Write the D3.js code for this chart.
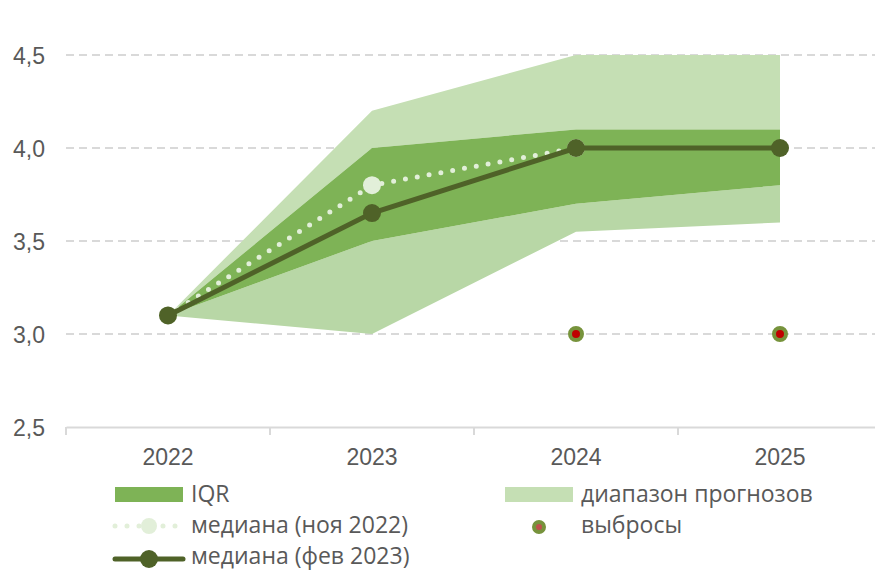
<!DOCTYPE html>
<html>
<head>
<meta charset="utf-8">
<script src="https://cdn.jsdelivr.net/npm/d3@7"></script>
<style>
  body { margin: 0; background: #fff; }
  text { fill: #595959; }
  .tick-label { font-family: "Liberation Sans", Arial, sans-serif; font-size: 23px; }
  .legend-label { font-family: "Open Sans", "Noto Sans", sans-serif; font-size: 23px; }
</style>
</head>
<body>
<div id="chart"></div>
<script>
// data
let years = ['2022', '2023', '2024', '2025'];
let rangeMin = [3.1, 3.0, 3.55, 3.6];
let rangeMax = [3.1, 4.2, 4.5, 4.5];
let q1 = [3.1, 3.5, 3.7, 3.8];
let q3 = [3.1, 4.0, 4.1, 4.1];
let medianFeb = [3.1, 3.65, 4.0, 4.0];
let medianNovYears = ['2022', '2023', '2024'];
let medianNov = [3.1, 3.8, 4.0];
let outlierYears = ['2024', '2025'];
let outlierValues = [3.0, 3.0];
let yTicks = [2.5, 3.0, 3.5, 4.0, 4.5];

let svgWidth = 875;
let svgHeight = 572;

let svg = d3.select('#chart')
  .append('svg')
  .attr('width', svgWidth)
  .attr('height', svgHeight);

// scales
let x = d3.scaleBand().domain(years).range([66, 882]);
let cx = d => x(d) + x.bandwidth() / 2;
let y = d3.scaleLinear().domain([2.5, 4.5]).range([427, 55]);

// grid lines
svg.append('g')
  .selectAll('line')
  .data(yTicks.slice(1))
  .enter()
  .append('line')
  .attr('x1', 66)
  .attr('x2', svgWidth)
  .attr('y1', d => y(d))
  .attr('y2', d => y(d))
  .attr('stroke', '#d9d9d9')
  .attr('stroke-width', 2)
  .attr('stroke-dasharray', '8 5');

// y tick labels
svg.append('g')
  .selectAll('text')
  .data(yTicks)
  .enter()
  .append('text')
  .attr('class', 'tick-label')
  .attr('x', 45)
  .attr('y', d => y(d) + 9)
  .attr('text-anchor', 'end')
  .text(d => d3.format('.1f')(d).replace('.', ','));

// areas
let rows = years.map((yr, i) => ({ yr, min: rangeMin[i], max: rangeMax[i], q1: q1[i], q3: q3[i] }));
let area = (lo, hi) => d3.area().x(d => cx(d.yr)).y0(d => y(d[lo])).y1(d => y(d[hi]));

svg.append('path').datum(rows).attr('d', area('q3', 'max')).attr('fill', '#c5dfb4');
svg.append('path').datum(rows).attr('d', area('min', 'q1')).attr('fill', '#b8d7a6');
svg.append('path').datum(rows).attr('d', area('q1', 'q3')).attr('fill', '#7eb356');

// x axis
let xAxis = d3.axisBottom(x).tickSize(8).tickSizeOuter(0).tickFormat('');
let axisG = svg.append('g')
  .attr('transform', 'translate(0, 427)')
  .call(xAxis);
axisG.select('.domain').attr('stroke', '#d9d9d9').attr('stroke-width', 2);
axisG.selectAll('.tick line')
  .attr('stroke', '#d9d9d9')
  .attr('stroke-width', 2)
  .attr('transform', `translate(${-x.bandwidth() / 2}, 0)`);

svg.append('g')
  .selectAll('text')
  .data(years)
  .enter()
  .append('text')
  .attr('class', 'tick-label')
  .attr('x', d => cx(d))
  .attr('y', 465)
  .attr('text-anchor', 'middle')
  .text(d => d);

// median nov 2022 (dotted)
let novLine = d3.line().x((d, i) => cx(medianNovYears[i])).y(d => y(d));
svg.append('path')
  .datum(medianNov)
  .attr('d', novLine)
  .attr('fill', 'none')
  .attr('stroke', '#e2efd9')
  .attr('stroke-width', 5)
  .attr('stroke-linecap', 'round')
  .attr('stroke-dasharray', '0 12');
svg.append('g')
  .selectAll('circle')
  .data(medianNov)
  .enter()
  .append('circle')
  .attr('cx', (d, i) => cx(medianNovYears[i]))
  .attr('cy', d => y(d))
  .attr('r', 9)
  .attr('fill', '#e2efd9');

// median feb 2023
let febLine = d3.line().x((d, i) => cx(years[i])).y(d => y(d));
svg.append('path')
  .datum(medianFeb)
  .attr('d', febLine)
  .attr('fill', 'none')
  .attr('stroke', '#4f6228')
  .attr('stroke-width', 5);
svg.append('g')
  .selectAll('circle')
  .data(medianFeb)
  .enter()
  .append('circle')
  .attr('cx', (d, i) => cx(years[i]))
  .attr('cy', d => y(d))
  .attr('r', 9)
  .attr('fill', '#4f6228');

// outliers
svg.append('g')
  .selectAll('circle')
  .data(outlierValues)
  .enter()
  .append('circle')
  .attr('cx', (d, i) => cx(outlierYears[i]))
  .attr('cy', d => y(d))
  .attr('r', 6)
  .attr('fill', '#c00000')
  .attr('stroke', '#77933c')
  .attr('stroke-width', 4);

// legend
let legend = svg.append('g');
legend.append('rect').attr('x', 115).attr('y', 487).attr('width', 68).attr('height', 15).attr('fill', '#7eb356');
legend.append('text').attr('class', 'legend-label').attr('x', 191).attr('y', 502).text('IQR');

legend.append('rect').attr('x', 505).attr('y', 487).attr('width', 68).attr('height', 15).attr('fill', '#c5dfb4');
legend.append('text').attr('class', 'legend-label').attr('x', 581).attr('y', 502).text('диапазон прогнозов');

legend.append('line')
  .attr('x1', 115).attr('x2', 183).attr('y1', 526).attr('y2', 526)
  .attr('stroke', '#e2efd9').attr('stroke-width', 5)
  .attr('stroke-linecap', 'round').attr('stroke-dasharray', '0 12');
legend.append('circle').attr('cx', 149).attr('cy', 526).attr('r', 8).attr('fill', '#e2efd9');
legend.append('text').attr('class', 'legend-label').attr('x', 191).attr('y', 533).text('медиана (ноя 2022)');

legend.append('circle').attr('cx', 539).attr('cy', 527).attr('r', 5)
  .attr('fill', '#c0504d').attr('stroke', '#77933c').attr('stroke-width', 4);
legend.append('text').attr('class', 'legend-label').attr('x', 581).attr('y', 533).text('выбросы');

legend.append('line')
  .attr('x1', 115).attr('x2', 183).attr('y1', 559).attr('y2', 559)
  .attr('stroke', '#4f6228').attr('stroke-width', 5).attr('stroke-linecap', 'round');
legend.append('circle').attr('cx', 149).attr('cy', 559).attr('r', 9).attr('fill', '#4f6228');
legend.append('text').attr('class', 'legend-label').attr('x', 191).attr('y', 564).text('медиана (фев 2023)');
</script>
</body>
</html>
